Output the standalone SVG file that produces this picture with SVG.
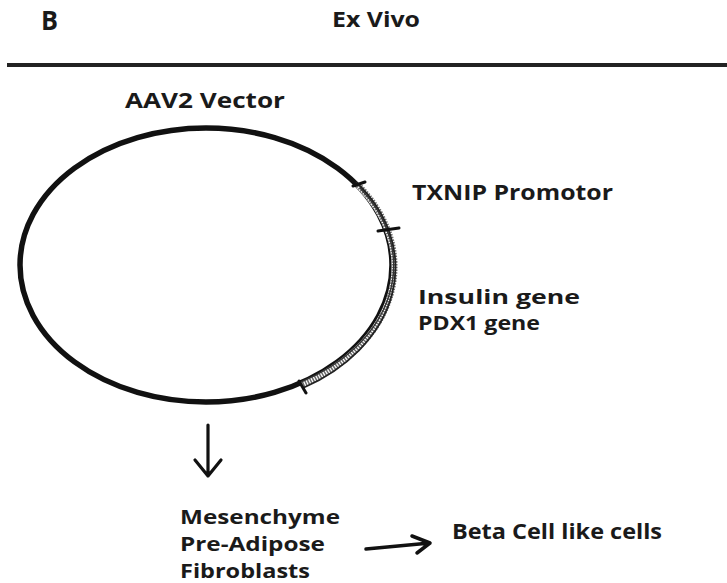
<svg xmlns="http://www.w3.org/2000/svg" width="727" height="583" viewBox="0 0 727 583">
<style>
text{font-family:"Open Sans","Liberation Sans",sans-serif;font-weight:700;fill:#1a1a1a}
.t22{font-size:22px}
.t21{font-size:21px}
.t19{font-size:19px}
.ln{stroke:#111;fill:none;stroke-linecap:round}
</style>
<rect width="727" height="583" fill="#fff"/>
<g id="header">
<text x="41" y="30" style="font-size:26px" textLength="17" lengthAdjust="spacingAndGlyphs">B</text>
<text class="t22" x="332" y="27" textLength="88" lengthAdjust="spacingAndGlyphs">Ex Vivo</text>
<line x1="7" y1="65" x2="727" y2="65" stroke="#222" stroke-width="4"/>
</g>
<g id="vector">
<text class="t21" x="125" y="108" textLength="160" lengthAdjust="spacingAndGlyphs">AAV2 Vector</text>
<ellipse cx="206" cy="265" rx="186" ry="137" fill="none" stroke="#111" stroke-width="5.5"/>
<path d="M358,185 A186,137 0 0 1 302,385" fill="none" stroke="#fff" stroke-width="6"/>
<path d="M358,185 A186,137 0 0 1 302,385" fill="none" stroke="#6a6a6a" stroke-width="6" stroke-dasharray="1.5 1.2"/>
<path d="M356,182 A189,140 0 0 1 303,388" fill="none" stroke="#222" stroke-width="1.8"/>
<path d="M360,188 A183,134 0 0 1 301,382" fill="none" stroke="#333" stroke-width="1.4"/>
<line class="ln" x1="353" y1="186" x2="365" y2="182" stroke-width="3"/>
<line class="ln" x1="378" y1="231" x2="399" y2="228" stroke-width="3"/>
<line class="ln" x1="299" y1="381" x2="306" y2="393" stroke-width="3"/>
</g>
<g id="labels">
<text class="t21" x="412" y="200" textLength="201" lengthAdjust="spacingAndGlyphs">TXNIP Promotor</text>
<text class="t19" x="418" y="304" textLength="162" lengthAdjust="spacingAndGlyphs">Insulin gene</text>
<text class="t19" x="418" y="330" textLength="122" lengthAdjust="spacingAndGlyphs">PDX1 gene</text>
</g>
<g id="cells">
<text class="t19" x="180" y="524" textLength="160" lengthAdjust="spacingAndGlyphs">Mesenchyme</text>
<text class="t19" x="180" y="551" textLength="145" lengthAdjust="spacingAndGlyphs">Pre-Adipose</text>
<text class="t19" x="180" y="578" textLength="130" lengthAdjust="spacingAndGlyphs">Fibroblasts</text>
</g>
<g id="result">
<text class="t21" x="452" y="539" textLength="210" lengthAdjust="spacingAndGlyphs">Beta Cell like cells</text>
</g>
<g id="connectors">
<path class="ln" d="M208,425 V476 M195,460 L208,476 L221,460" stroke-width="3.2" stroke-linejoin="round"/>
<path class="ln" d="M366,549 L430,543 M412,536 L430,543 L417,553" stroke-width="3.5" stroke-linejoin="round"/>
</g>
</svg>
